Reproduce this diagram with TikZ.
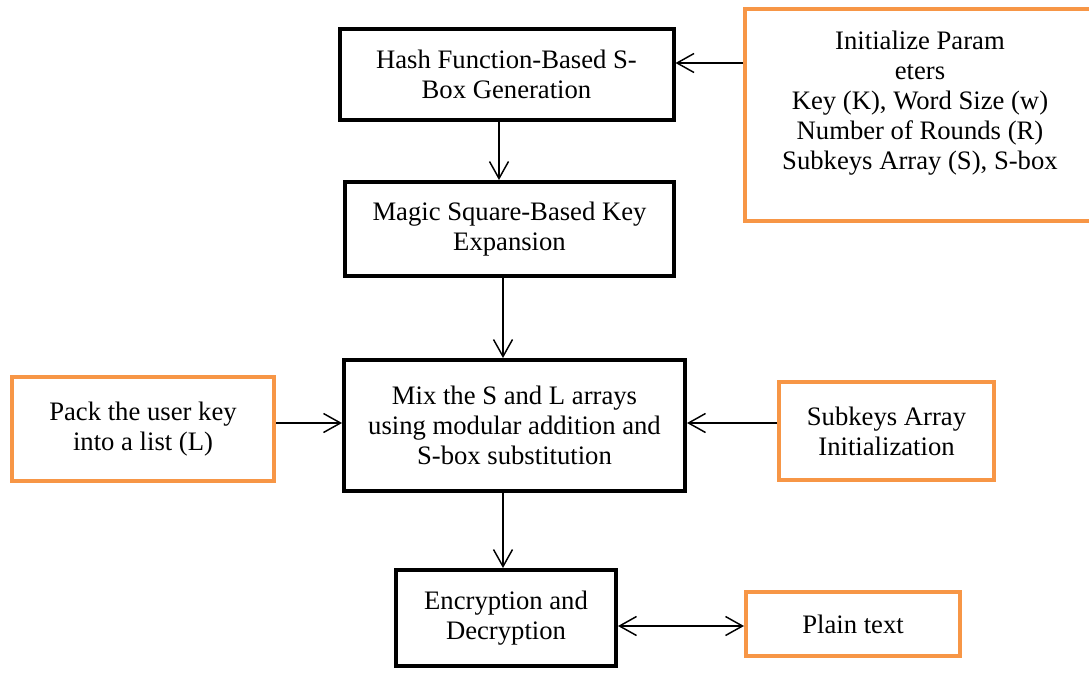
\documentclass[tikz,border=0pt]{standalone}
\usepackage{fontspec}
\setmainfont{LiberationSerif}[Extension=.ttf, UprightFont=*-Regular, BoldFont=*-Bold]
\usepackage{xcolor}
\usetikzlibrary{arrows.meta}
\definecolor{boxorange}{HTML}{F79646}

\begin{document}
\begin{tikzpicture}[
    x=0.75pt, y=-0.75pt,
    >={Straight Barb[length=12.75pt, width=14.25pt]},
    stagebox/.style={draw=black, line width=3pt, align=center,
        inner sep=0pt, font=\fontsize{20}{22.5}\selectfont},
    inputbox/.style={draw=boxorange, line width=3pt, align=center,
        inner sep=0pt, font=\fontsize{20}{22.5}\selectfont},
    flow/.style={->, line width=1.1pt},
]
\clip (0,0) rectangle (1089,675);

\node[stagebox, minimum width=250.5pt, minimum height=68.25pt] (hash) at (506.5,74.5)
    {Hash Function-Based S-\\Box Generation};
\node[inputbox, minimum width=262.5pt, minimum height=159pt] (init) at (920,115)
    {Initialize Param\\eters\\Key (K), Word Size (w)\\Number of Rounds (R)\\Subkeys Array (S), S-box\\~};
\node[stagebox, minimum width=246.75pt, minimum height=70.5pt] (magic) at (509.5,229)
    {Magic Square-Based Key\\Expansion};
\node[stagebox, minimum width=255.75pt, minimum height=98.25pt] (mix) at (514.5,425.5)
    {Mix the S and L arrays\\using modular addition and\\S-box substitution};
\node[inputbox, minimum width=196.5pt, minimum height=78pt] (pack) at (143,429)
    {Pack the user key\\into a list (L)};
\node[inputbox, minimum width=161.25pt, minimum height=73.5pt] (subkeys) at (886.5,431)
    {Subkeys Array\\Initialization};
\node[stagebox, minimum width=165pt, minimum height=72pt] (crypt) at (506,618)
    {Encryption and\\Decryption};
\node[inputbox, minimum width=160.5pt, minimum height=48pt] (plain) at (853,624)
    {Plain text};

\draw[flow] (init.west |- 0,63) -- (hash.east |- 0,63);
\draw[flow] (hash.south -| 499,0) -- (magic.north -| 499,0);
\draw[flow] (magic.south -| 503,0) -- (mix.north -| 503,0);
\draw[flow] (pack.east |- 0,423) -- (mix.west |- 0,423);
\draw[flow] (subkeys.west |- 0,423) -- (mix.east |- 0,423);
\draw[flow] (mix.south -| 503,0) -- (crypt.north -| 503,0);
\draw[flow, <->] (crypt.east |- 0,626) -- (plain.west |- 0,626);
\end{tikzpicture}
\end{document}
